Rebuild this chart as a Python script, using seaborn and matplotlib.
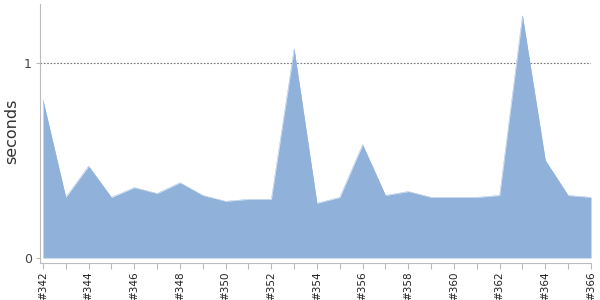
import matplotlib
matplotlib.use("Agg")
import matplotlib.pyplot as plt
import seaborn as sns
import pandas as pd
import numpy as np

builds = list(range(342, 367))
seconds = [0.81, 0.31, 0.47, 0.31, 0.36, 0.33, 0.385, 0.32, 0.29, 0.30, 0.30,
           1.07, 0.28, 0.31, 0.58, 0.32, 0.34, 0.31, 0.31, 0.31, 0.32,
           1.24, 0.50, 0.32, 0.31]
tick_labels = ["#%d" % b for b in builds]

df = pd.DataFrame({"build": builds, "seconds": seconds})

sns.set_style("white")
plt.rcParams['font.family'] = ['DejaVu Sans']

fig = plt.figure(figsize=(6, 3), dpi=100)
ax = fig.add_axes([40/600, 37/300, 551/600, 259/300])

color = "#8fb1da"
sns.lineplot(data=df, x="build", y="seconds", ax=ax, color=color, linewidth=0.3)
ax.fill_between(df["build"], 0, df["seconds"], color=color, linewidth=0)

ax.set_xlim(341.87, 366)
ax.set_ylim(-0.026, 1.30)

ax.axhline(1, color="#777777", linestyle=(0, (1.5, 1.5)), linewidth=0.8, zorder=0)

ax.set_xticks(builds)
ax.set_xticklabels([lbl if i % 2 == 0 else "" for i, lbl in enumerate(tick_labels)],
                   rotation=90, fontsize=7.5, color="#222222")
ax.set_yticks([0, 1])
ax.set_yticklabels(["0", "1"], fontsize=9, color="#444444")
ax.tick_params(axis="x", length=4, width=0.8, color="#bbbbbb", bottom=True, pad=2)
ax.tick_params(axis="y", length=3, width=0.8, color="#bbbbbb", left=True, pad=3)

ax.set_xlabel("")
ax.set_ylabel("seconds", fontsize=11.5, color="#333333")
ax.yaxis.set_label_coords(-21/551, 0.51)

for s in ["top", "right"]:
    ax.spines[s].set_visible(False)
for s in ["left", "bottom"]:
    ax.spines[s].set_color("#bbbbbb")
    ax.spines[s].set_linewidth(0.8)

fig.savefig("out.png", dpi=100)
